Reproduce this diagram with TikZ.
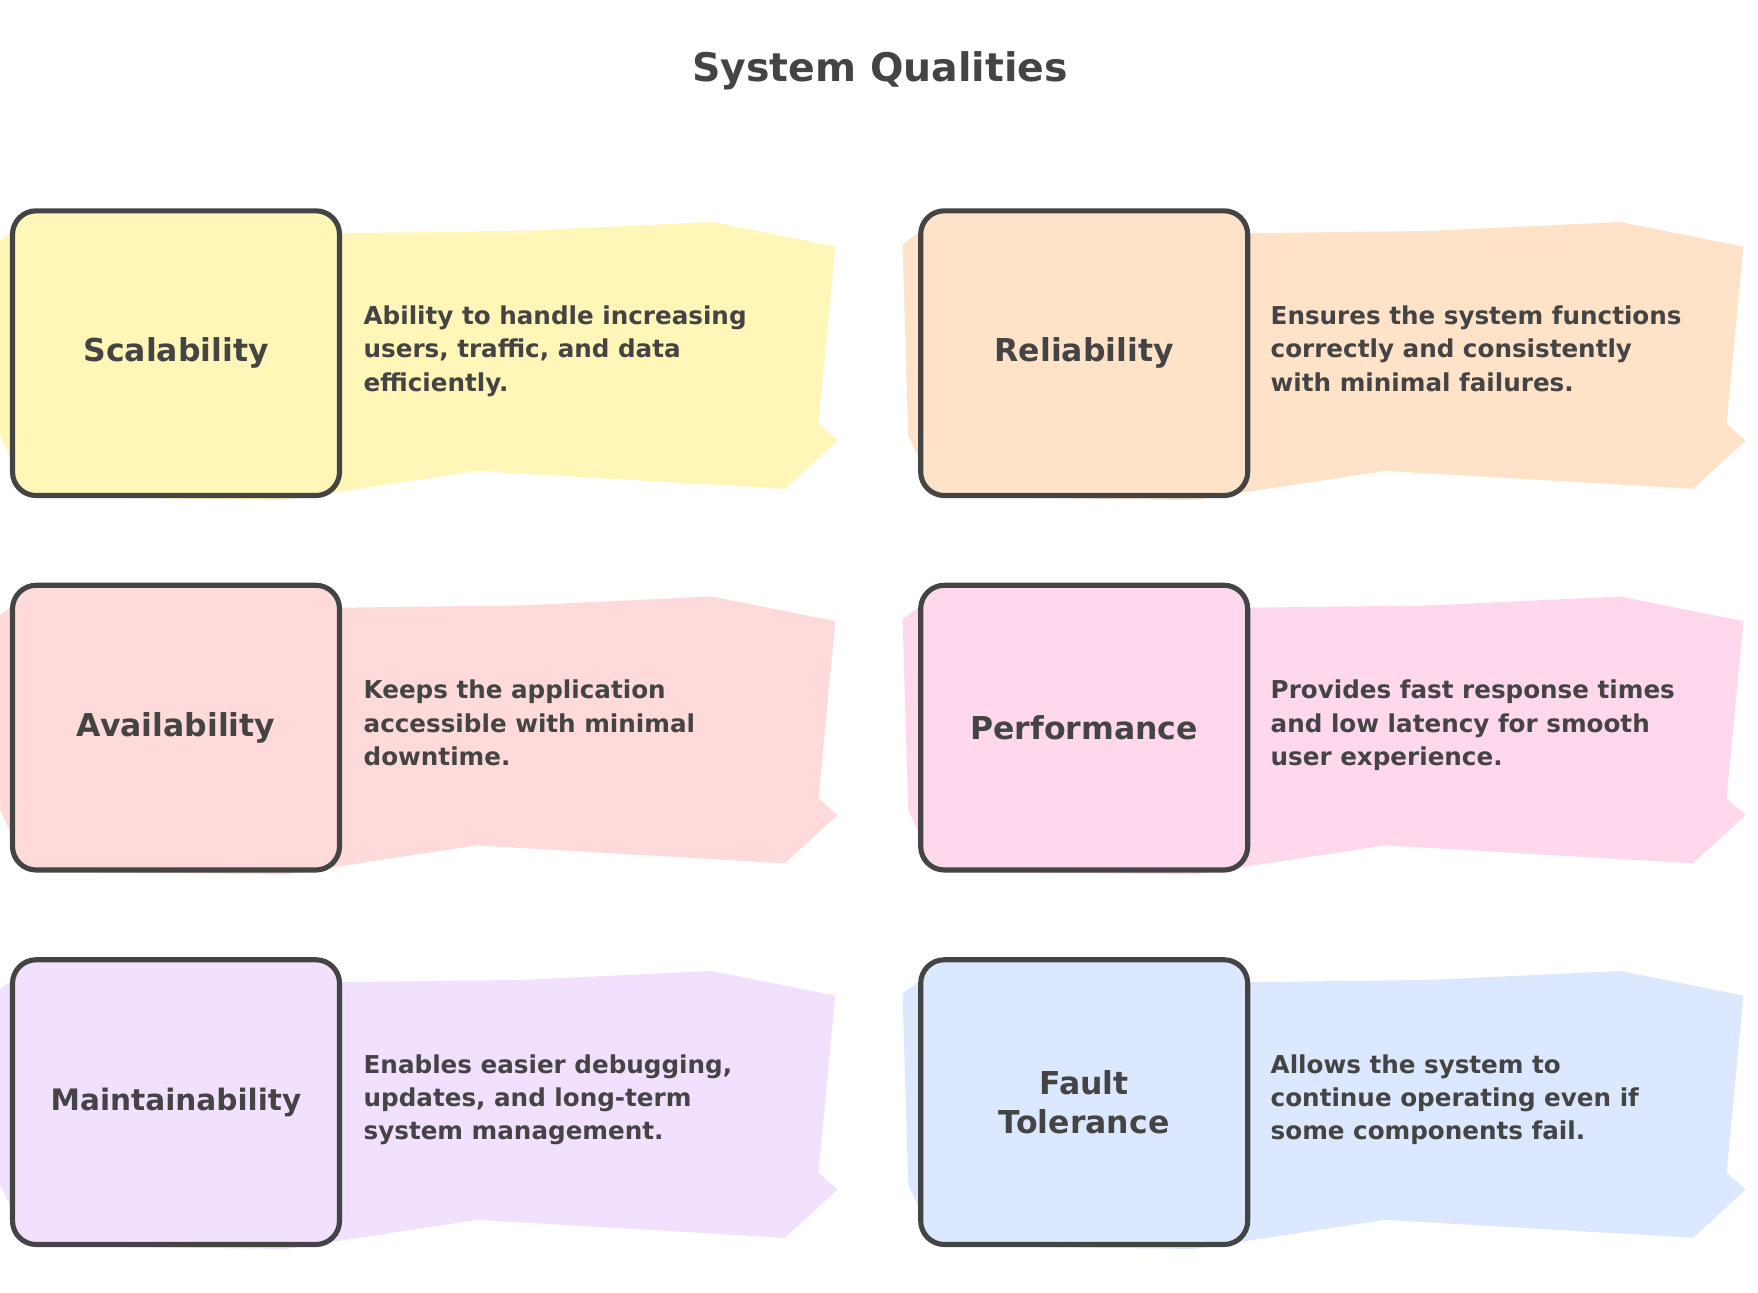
\documentclass[tikz,border=0pt]{standalone}
\usepackage{fontspec}
\setmainfont{DejaVu Sans}
\usetikzlibrary{positioning}
\definecolor{ink}{HTML}{444444}
\definecolor{cYel}{HTML}{FFF6B8}
\definecolor{cOra}{HTML}{FFE3C9}
\definecolor{cRed}{HTML}{FFDADA}
\definecolor{cPnk}{HTML}{FFD8EE}
\definecolor{cPur}{HTML}{F2E0FF}
\definecolor{cBlu}{HTML}{DCE8FF}
\tikzset{
  quality/.style={draw=ink, line width=2.6pt, rounded corners=12pt, minimum width=5.7cm,
    minimum height=5.08cm, text width=5.6cm, align=center, font=\fontsize{16}{20}\selectfont\bfseries, text=ink},
  desc/.style={anchor=north west, align=left, inner sep=0pt,
    font=\fontsize{12.5}{17}\selectfont\bfseries, text=ink},
}
% rough colour band behind one row
\newcommand{\band}[3]{%
  \fill[#3] (#1-10,#2+30) -- (#1+20,#2+8) -- (#1+300,#2+20) -- (#1+460,#2+18) -- (#1+630,#2+10)
    -- (#1+740,#2+32) -- (#1+725,#2+190) -- (#1+742,#2+205) -- (#1+695,#2+248)
    -- (#1+420,#2+232) -- (#1+250,#2+258) -- (#1+20,#2+255) -- (#1-5,#2+200) -- cycle;}
\begin{document}
\begin{tikzpicture}[x=0.02cm, y=-0.02cm]
\useasboundingbox (0,0) rectangle (1568,1152.4);

\node[font=\fontsize{20}{24}\selectfont\bfseries, text=ink] (title) at (785,63) {System Qualities};

\band{5}{188}{cYel}
\band{815}{188}{cOra}
\band{5}{522}{cRed}
\band{815}{522}{cPnk}
\band{5}{856}{cPur}
\band{815}{856}{cBlu}

\node[quality, fill=cYel] (scal) at (157,315) {Scalability};
\node[quality, fill=cOra] (reli) at (967,315) {Reliability};
\node[quality, fill=cRed] (avai) at (157,649) {Availability};
\node[quality, fill=cPnk] (perf) at (967,649) {Performance};
\node[quality, fill=cPur, font=\fontsize{15}{20}\selectfont\bfseries] (main) at (157,983) {Maintainability};
\node[quality, fill=cBlu] (faul) at (967,983) {Fault\\Tolerance};

\node[desc] (scald) at (324,272) {Ability to handle increasing\\users, traffic, and data\\efficiently.};
\node[desc] (relid) at (1133,272) {Ensures the system functions\\correctly and consistently\\with minimal failures.};
\node[desc] (avaid) at (324,606) {Keeps the application\\accessible with minimal\\downtime.};
\node[desc] (perfd) at (1133,606) {Provides fast response times\\and low latency for smooth\\user experience.};
\node[desc] (maind) at (324,940) {Enables easier debugging,\\updates, and long-term\\system management.};
\node[desc] (fauld) at (1133,940) {Allows the system to\\continue operating even if\\some components fail.};

\end{tikzpicture}
\end{document}
